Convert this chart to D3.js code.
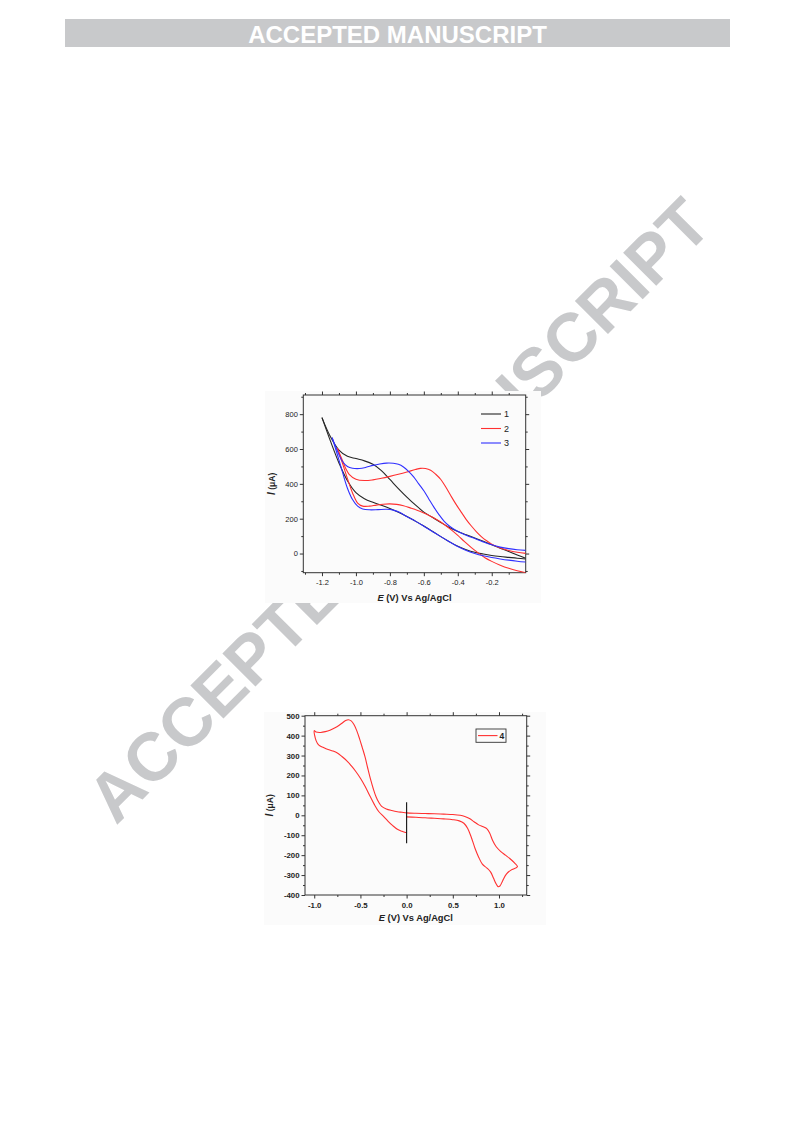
<!DOCTYPE html>
<html><head><meta charset="utf-8">
<script src="https://cdn.jsdelivr.net/npm/d3@7"></script>
<style>body{margin:0;background:#fff}svg{display:block}text{font-family:"Liberation Sans",Arial,sans-serif}</style>
</head><body>
<svg id="page" width="793" height="1123"></svg>
<script>
// ---------- DATA ----------
const headerText = "ACCEPTED MANUSCRIPT";
const watermarkText = "ACCEPTED MANUSCRIPT";

// Figure 1
const fig1XDomain = [-1.31, 0.0];
const fig1YDomain = [-110, 910];
const fig1XTicks = [-1.2, -1.0, -0.8, -0.6, -0.4, -0.2];
const fig1XMinor = [-1.3, -1.1, -0.9, -0.7, -0.5, -0.3, -0.1];
const fig1YTicks = [0, 200, 400, 600, 800];
const fig1YMinor = [-100, 100, 300, 500, 700, 900];
const fig1Labels = ["1", "2", "3"];
const fig1Colors = ["#262626", "#ff3030", "#3030ff"];

const curve1Up = [[-1.2,780],[-1.15,670],[-1.1,594],[-1.05,558],[-1.0,545],[-0.95,532],[-0.9,512],[-0.85,476],[-0.8,425],[-0.75,373],[-0.7,324],[-0.65,279],[-0.6,238],[-0.55,208],[-0.5,178],[-0.45,150],[-0.4,127],[-0.35,108],[-0.3,89],[-0.25,70],[-0.2,50],[-0.15,31],[-0.1,12],[-0.05,-8],[0,-27]];
const curve1Down = [[-1.2,780],[-1.15,645],[-1.1,520],[-1.05,418],[-1.0,350],[-0.95,315],[-0.9,294],[-0.85,277],[-0.8,258],[-0.75,237],[-0.7,213],[-0.65,186],[-0.6,158],[-0.55,128],[-0.5,97],[-0.45,68],[-0.4,42],[-0.35,22],[-0.3,7],[-0.25,-3],[-0.2,-11],[-0.15,-17],[-0.1,-22],[-0.05,-27],[0,-31]];

const curve2Up = [[-1.11,605],[-1.08,535],[-1.06,488],[-1.04,455],[-1.0,427],[-0.95,419],[-0.9,423],[-0.85,432],[-0.8,443],[-0.75,455],[-0.7,468],[-0.65,482],[-0.62,489],[-0.59,488],[-0.56,478],[-0.53,455],[-0.5,425],[-0.47,380],[-0.44,330],[-0.41,282],[-0.38,238],[-0.35,195],[-0.32,158],[-0.29,125],[-0.26,96],[-0.23,73],[-0.2,54],[-0.15,32],[-0.1,17],[-0.05,7],[0,1]];
const curve2Down = [[-1.11,605],[-1.08,520],[-1.05,430],[-1.02,348],[-0.99,290],[-0.96,272],[-0.92,272],[-0.88,278],[-0.84,283],[-0.8,285],[-0.76,282],[-0.72,274],[-0.68,262],[-0.64,249],[-0.6,233],[-0.56,214],[-0.52,192],[-0.48,167],[-0.44,137],[-0.4,104],[-0.36,68],[-0.32,34],[-0.28,4],[-0.24,-24],[-0.2,-45],[-0.15,-67],[-0.1,-85],[-0.05,-99],[0,-110]];

const curve3Up = [[-1.14,665],[-1.11,590],[-1.08,530],[-1.05,500],[-1.02,490],[-0.98,488],[-0.94,495],[-0.9,506],[-0.86,514],[-0.82,519],[-0.78,518],[-0.75,512],[-0.72,497],[-0.69,472],[-0.66,440],[-0.63,400],[-0.6,360],[-0.57,312],[-0.54,265],[-0.51,222],[-0.48,185],[-0.45,158],[-0.42,138],[-0.38,118],[-0.34,101],[-0.3,86],[-0.25,67],[-0.2,50],[-0.15,37],[-0.1,28],[-0.05,22],[0,18]];
const curve3Down = [[-1.14,665],[-1.11,570],[-1.08,470],[-1.05,375],[-1.02,310],[-0.99,272],[-0.96,256],[-0.92,251],[-0.87,252],[-0.82,254],[-0.78,249],[-0.74,235],[-0.7,212],[-0.65,186],[-0.6,157],[-0.55,127],[-0.5,97],[-0.45,68],[-0.4,40],[-0.35,17],[-0.3,0],[-0.25,-13],[-0.2,-23],[-0.15,-31],[-0.1,-38],[-0.05,-44],[0,-49]];

// Figure 2
const fig2XDomain = [-1.1, 1.3];
const fig2YDomain = [-400, 500];
const fig2XTicks = [-1.0, -0.5, 0.0, 0.5, 1.0];
const fig2XMinor = [-0.75, -0.25, 0.25, 0.75, 1.25];
const fig2YTicks = [-400, -300, -200, -100, 0, 100, 200, 300, 400, 500];
const fig2YMinor = [-350, -250, -150, -50, 50, 150, 250, 350, 450];
const fig2Label = "4";
const fig2Color = "#ff3030";

const curve4LeftDown = [[0,-88],[-0.05,-80],[-0.1,-70],[-0.15,-52],[-0.2,-30],[-0.25,-5],[-0.3,18],[-0.35,55],[-0.4,100],[-0.45,146],[-0.5,186],[-0.55,220],[-0.6,249],[-0.65,275],[-0.7,295],[-0.75,313],[-0.8,323],[-0.85,330],[-0.9,340],[-0.95,352],[-0.98,375],[-1.0,425]];
const curve4LeftUp = [[-1.0,425],[-0.98,418],[-0.93,416],[-0.88,420],[-0.83,427],[-0.78,438],[-0.73,452],[-0.69,466],[-0.66,476],[-0.63,480],[-0.6,474],[-0.57,456],[-0.54,425],[-0.51,385],[-0.48,340],[-0.45,293],[-0.42,235],[-0.39,180],[-0.36,132],[-0.33,92],[-0.3,64],[-0.27,45],[-0.22,32],[-0.16,24],[-0.1,18],[-0.05,15],[0,12]];
const curve4RightUp = [[0,12],[0.1,10],[0.2,9],[0.3,8],[0.4,6],[0.5,4],[0.58,0],[0.63,-6],[0.68,-16],[0.73,-32],[0.78,-48],[0.83,-58],[0.87,-68],[0.9,-90],[0.93,-125],[0.97,-158],[1.02,-182],[1.07,-200],[1.12,-218],[1.17,-240],[1.2,-258]];
const curve4RightDown = [[1.2,-258],[1.13,-275],[1.08,-295],[1.04,-328],[1.01,-355],[0.99,-358],[0.97,-345],[0.94,-315],[0.91,-285],[0.87,-265],[0.82,-245],[0.78,-210],[0.74,-165],[0.7,-110],[0.66,-65],[0.62,-40],[0.57,-28],[0.5,-22],[0.4,-18],[0.3,-15],[0.2,-12],[0.1,-10],[0,-8]];
const markerE = 0.0;
const markerRange = [-140, 65];

// ---------- DRAW ----------
const svg = d3.select("#page");
const grey = "#c8c9cb";

// watermark
svg.append("text")
  .attr("transform", "translate(116,826) rotate(-45)")
  .attr("font-size", 68).attr("font-weight", "bold").attr("fill", grey)
  .text(watermarkText);

// header
svg.append("rect").attr("x", 65).attr("y", 19).attr("width", 665).attr("height", 28).attr("fill", grey);
svg.append("text").attr("x", 397.5).attr("y", 42.5).attr("text-anchor", "middle")
  .attr("font-size", 24).attr("font-weight", "bold").attr("fill", "#fff").text(headerText);

const fmt1 = d => d.toFixed(1);
const fmt0 = d => String(d);

function panel(c) {
  const g = svg.append("g");
  g.append("rect").attr("x", c.bg[0]).attr("y", c.bg[1]).attr("width", c.bg[2]).attr("height", c.bg[3]).attr("fill", "#fbfbfb");
  const x = d3.scaleLinear().domain(c.xDomain).range([c.left, c.right]);
  const y = d3.scaleLinear().domain(c.yDomain).range([c.bottom, c.top]);
  const axes = [
    [d3.axisBottom(x), c.bottom, null, c.xTicks, c.xMinor, true],
    [d3.axisTop(x), c.top, null, c.xTicks, c.xMinor, false],
    [d3.axisLeft(y), null, c.left, c.yTicks, c.yMinor, true],
    [d3.axisRight(y), null, c.right, c.yTicks, c.yMinor, false]
  ];
  axes.forEach(([ax, ty, tx, maj, min, lab], i) => {
    const isX = i < 2;
    const tr = isX ? `translate(0,${ty})` : `translate(${tx},0)`;
    const fmt = isX ? c.xFmt : fmt0;
    const gMaj = g.append("g").attr("transform", tr)
      .call(ax.tickValues(maj).tickSize(3.5).tickSizeOuter(0).tickPadding(isX ? 3.5 : 2).tickFormat(lab ? fmt : ""));
    gMaj.select(".domain").remove();
    gMaj.selectAll("line").attr("stroke", "#333");
    gMaj.selectAll("text").attr("font-size", c.tickFont).attr("font-weight", c.tickWeight).attr("fill", "#222").attr("font-family", "Liberation Sans, Arial, sans-serif");
    const ax2 = [d3.axisBottom, d3.axisTop, d3.axisLeft, d3.axisRight][i](isX ? x : y);
    const gMin = g.append("g").attr("transform", tr)
      .call(ax2.tickValues(min).tickSize(2).tickSizeOuter(0).tickFormat(""));
    gMin.select(".domain").remove();
    gMin.selectAll("line").attr("stroke", "#333");
  });
  g.append("rect").attr("x", c.left).attr("y", c.top).attr("width", c.right - c.left).attr("height", c.bottom - c.top)
    .attr("fill", "none").attr("stroke", "#333").attr("stroke-width", 1);
  // titles
  const xt = g.append("text").attr("x", (c.left + c.right) / 2 + c.xTitleDx).attr("y", c.xTitleY).attr("text-anchor", "middle")
    .attr("font-size", 9.3).attr("font-weight", "bold").attr("fill", "#222");
  xt.append("tspan").attr("font-style", "italic").text("E");
  xt.append("tspan").text(" (V) Vs Ag/AgCl");
  const yt = g.append("text").attr("transform", `translate(${c.yTitleX},${(c.top + c.bottom) / 2}) rotate(-90)`)
    .attr("text-anchor", "middle").attr("font-weight", "bold").attr("fill", "#222");
  yt.append("tspan").attr("font-style", "italic").attr("font-size", 10).text("I");
  yt.append("tspan").attr("font-size", 8.5).text(" (\u03bcA)");
  return {g, x, y};
}

// Figure 1
const p1 = panel({bg: [265, 391, 276, 212], left: 303.3, right: 525.7, top: 395, bottom: 572.7,
  xDomain: fig1XDomain, yDomain: fig1YDomain, xTicks: fig1XTicks, xMinor: fig1XMinor, yTicks: fig1YTicks, yMinor: fig1YMinor,
  xFmt: fmt1, tickFont: 7.5, tickWeight: "normal", xTitleY: 601, xTitleDx: 0, yTitleX: 275});
const line1 = d3.line().x(d => p1.x(d[0])).y(d => p1.y(d[1])).curve(d3.curveCatmullRom);
const fig1Curves = [[curve1Up, curve1Down], [curve2Up, curve2Down], [curve3Up, curve3Down]];
p1.g.append("clipPath").attr("id", "c1").append("rect")
  .attr("x", 303.3).attr("y", 395).attr("width", 222.4).attr("height", 177.7);
fig1Curves.forEach((pair, i) => {
  pair.forEach(arr => {
    p1.g.append("path").attr("d", line1(arr)).attr("fill", "none").attr("stroke", fig1Colors[i])
      .attr("stroke-width", 1.1).attr("clip-path", "url(#c1)");
  });
});
fig1Labels.forEach((lab, i) => {
  const yy = 414 + i * 14.5;
  p1.g.append("line").attr("x1", 481).attr("x2", 501).attr("y1", yy).attr("y2", yy).attr("stroke", fig1Colors[i]).attr("stroke-width", 1.1);
  p1.g.append("text").attr("x", 504).attr("y", yy + 3.2).attr("font-size", 9).attr("fill", "#222").text(lab);
});

// Figure 2
const p2 = panel({bg: [264, 712, 282, 213], left: 305, right: 526.7, top: 715.7, bottom: 895,
  xDomain: fig2XDomain, yDomain: fig2YDomain, xTicks: fig2XTicks, xMinor: fig2XMinor, yTicks: fig2YTicks, yMinor: fig2YMinor,
  xFmt: fmt1, tickFont: 7.8, tickWeight: "bold", xTitleY: 921, xTitleDx: 0, yTitleX: 273});
const line2 = d3.line().x(d => p2.x(d[0])).y(d => p2.y(d[1])).curve(d3.curveCatmullRom);
const curve4 = [].concat(curve4LeftDown, curve4LeftUp.slice(1), curve4RightUp.slice(1), curve4RightDown.slice(1));
p2.g.append("path").attr("d", line2(curve4)).attr("fill", "none").attr("stroke", fig2Color).attr("stroke-width", 1.1);
p2.g.append("line").attr("x1", p2.x(markerE)).attr("x2", p2.x(markerE))
  .attr("y1", p2.y(markerRange[0])).attr("y2", p2.y(markerRange[1])).attr("stroke", "#111").attr("stroke-width", 1.1);
p2.g.append("rect").attr("x", 476).attr("y", 729).attr("width", 30).attr("height", 13.3).attr("fill", "none").attr("stroke", "#333").attr("stroke-width", 0.9);
p2.g.append("line").attr("x1", 478).attr("x2", 497.5).attr("y1", 735.6).attr("y2", 735.6).attr("stroke", fig2Color).attr("stroke-width", 1.1);
p2.g.append("text").attr("x", 499.5).attr("y", 739).attr("font-size", 8.5).attr("font-weight", "bold").attr("fill", "#222").text(fig2Label);
</script>
</body></html>
